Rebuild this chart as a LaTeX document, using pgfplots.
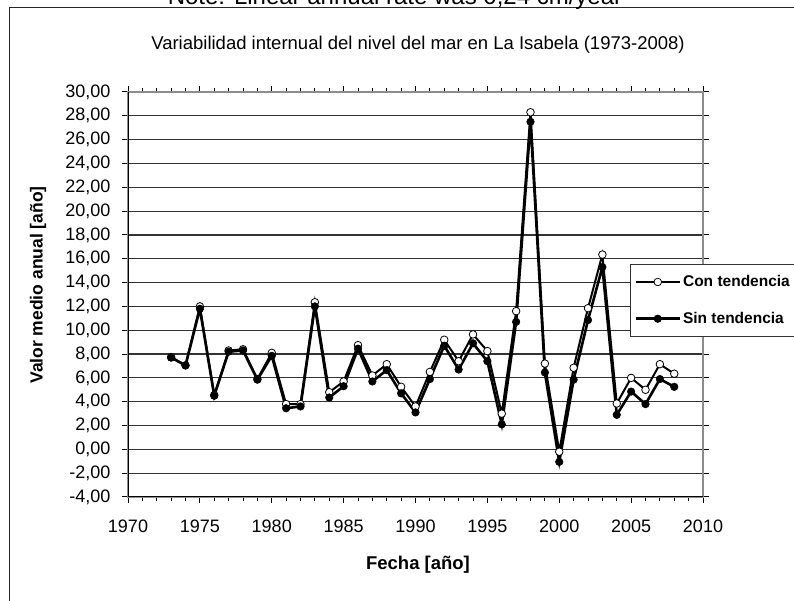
\documentclass[border=0pt]{standalone}
\usepackage{pgfplots}
\pgfplotsset{compat=1.18}
\usepackage{fontspec}
\setmainfont{Liberation Sans}
\pgfplotstableread{
year con sin
1973 7.75 7.70
1974 7.05 7.05
1975 12.0 11.8
1976 4.55 4.5
1977 8.3 8.2
1978 8.4 8.3
1979 5.9 5.85
1980 8.1 7.85
1981 3.8 3.45
1982 3.8 3.6
1983 12.35 12.0
1984 4.8 4.35
1985 5.7 5.3
1986 8.75 8.45
1987 6.2 5.7
1988 7.15 6.65
1989 5.25 4.7
1990 3.6 3.1
1991 6.5 5.9
1992 9.2 8.7
1993 7.4 6.7
1994 9.65 8.9
1995 8.25 7.4
1996 3.0 2.1
1997 11.6 10.7
1998 28.3 27.5
1999 7.2 6.45
2000 -0.2 -1.05
2001 6.85 5.85
2002 11.85 10.85
2003 16.35 15.3
2004 3.85 2.9
2005 6.0 4.85
2006 5.0 3.8
2007 7.15 5.9
2008 6.35 5.25
}\datatable
\begin{document}
\begin{tikzpicture}
\useasboundingbox (0,0) rectangle (794pt,601pt);
\draw[black!85, line width=1pt] (9pt,-5pt) -- (9pt,593.7pt) -- (800pt,593.7pt);
\node[anchor=base, font=\fontsize{24}{26}\selectfont] at (395pt,596pt) {Note: Linear annual rate was 0,24 cm/year};
\node[font=\fontsize{18.5}{20}\selectfont] at (418pt,556pt) {Variabilidad internual del nivel del mar en La Isabela (1973-2008)};
\node[rotate=90, font=\fontsize{17.5}{19}\selectfont\bfseries] at (38pt,316pt) {Valor medio anual [año]};
\node[font=\fontsize{18.5}{20}\selectfont\bfseries] at (418pt,36pt) {Fecha [año]};
\begin{axis}[
  at={(128pt,104pt)}, anchor=south west,
  width=575pt, height=405pt, scale only axis,
  xmin=1970, xmax=2010, ymin=-4, ymax=30,
  xtick={1970,1975,...,2010}, minor x tick num=4,
  ytick={-4,-2,...,30},
  tick align=outside, major tick length=6pt, minor tick length=4pt,
  tick style={black, line width=1pt},
  ymajorgrids, major grid style={black!80, line width=1.2pt},
  axis line style={draw=black!45, line width=1.3pt},
  tick label style={font=\fontsize{18}{20}\selectfont},
  /pgf/number format/assume math mode=true,
  yticklabel style={/pgf/number format/.cd, fixed, fixed zerofill, precision=2, use comma, /tikz/xshift=-8pt},
  xticklabel style={/pgf/number format/1000 sep={}, yshift=-13pt},
  legend style={at={(0.873,0.575)}, anchor=north west, draw=black!80, line width=1pt,
    font=\fontsize{15.5}{17}\selectfont\bfseries, inner xsep=4pt, inner ysep=9pt, row sep=20pt, cells={anchor=west}},
  legend image code/.code={\draw[mark repeat=2, mark phase=2, #1] plot coordinates {(0pt,0pt) (22pt,0pt) (44pt,0pt)};},
]
\addplot[black, line width=2pt, mark=*, mark size=3.8pt, mark options={fill=white, draw=black, line width=0.8pt}] table[x=year, y=con] {\datatable};
\addlegendentry{Con tendencia}
\addplot[black, line width=2.6pt, mark=*, mark size=3.8pt, mark options={fill=black, line width=0.5pt}] table[x=year, y=sin] {\datatable};
\addlegendentry{Sin tendencia}
\draw[black, line width=1.3pt] (rel axis cs:0,1) -- (rel axis cs:0,0) -- (rel axis cs:1,0);
\end{axis}
\end{tikzpicture}
\end{document}
